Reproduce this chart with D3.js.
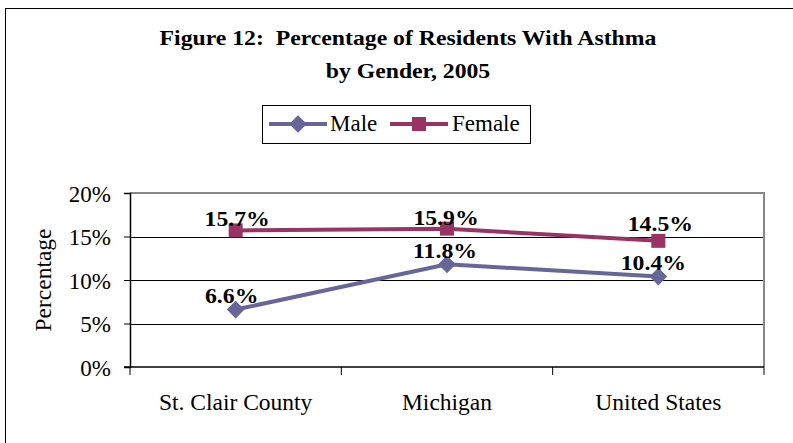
<!DOCTYPE html>
<html>
<head>
  <title>Figure 12: Percentage of Residents With Asthma by Gender, 2005</title>
  <script src="https://d3js.org/d3.v7.min.js"></script>
  <style type="text/css">
    body {
      margin: 0;
      background: white;
    }
    text {
      font-family: "Liberation Serif", "Times New Roman", serif;
      fill: #000;
      white-space: pre;
    }
  </style>
</head>
<body>
  <div id="chart"></div>
  <script>
    // data
    var categories = ["St. Clair County", "Michigan", "United States"];
    var maleValues = [6.6, 11.8, 10.4];
    var femaleValues = [15.7, 15.9, 14.5];
    var seriesNames = ["Male", "Female"];
    var seriesColors = ["#666699", "#993366"];
    var yTicks = [0, 5, 10, 15, 20];

    // small nudges for the value labels, as placed in the original
    var labelDx = [[-4, -2, -5], [1.5, -1, 2]];
    var labelDy = [[-6.5, -6, -6.5], [-4.5, -4, -10]];

    var width = 793;
    var height = 443;
    var plot = { left: 130, right: 764, top: 193, bottom: 367 };
    var boldStretch = 1.13; // the bold text in the original is drawn a bit wide

    var svg = d3.select("#chart").append("svg")
      .attr("width", width)
      .attr("height", height);

    // outer chart border (runs off the page on right and bottom)
    svg.append("rect")
      .attr("x", 5.5).attr("y", 8.5)
      .attr("width", 800).attr("height", 450)
      .attr("fill", "white")
      .attr("stroke", "#000")
      .attr("stroke-width", 1);

    // title
    var title = svg.append("text")
      .attr("text-anchor", "middle")
      .attr("transform", "translate(408,0) scale(" + boldStretch + ",1)")
      .style("font-size", "21px")
      .style("font-weight", "bold");
    title.append("tspan").attr("x", 0).attr("y", 45)
      .text("Figure 12:  Percentage of Residents With Asthma");
    title.append("tspan").attr("x", 0).attr("y", 78)
      .text("by Gender, 2005");

    var x = d3.scaleBand().domain(categories).range([plot.left, plot.right]);
    var y = d3.scaleLinear().domain([0, 20]).range([plot.bottom, plot.top]);

    // gridlines
    svg.append("g").selectAll("line").data(yTicks.filter(function(d) { return d > 0 && d < 20; }))
      .enter().append("line")
      .attr("x1", plot.left).attr("x2", plot.right)
      .attr("y1", function(d) { return Math.round(y(d)) + 0.5; })
      .attr("y2", function(d) { return Math.round(y(d)) + 0.5; })
      .attr("stroke", "#000")
      .attr("stroke-width", 1);

    // top and right frame (gray)
    svg.append("path")
      .attr("d", "M" + plot.left + "," + plot.top + "H" + plot.right + "V" + plot.bottom)
      .attr("fill", "none")
      .attr("stroke", "#888")
      .attr("stroke-width", 2);

    // y axis
    var yAxis = d3.axisLeft(y)
      .tickValues(yTicks)
      .tickSize(6)
      .tickFormat(function(d) { return d + "%"; });
    var yg = svg.append("g")
      .attr("transform", "translate(" + plot.left + ",0)")
      .call(yAxis);
    yg.select(".domain").attr("stroke", "#000").attr("stroke-width", 1.5);
    yg.selectAll(".tick line").attr("stroke", "#000");
    yg.selectAll(".tick text")
      .attr("x", -19)
      .attr("dy", "0.35em")
      .style("font-size", "23px")
      .style("font-family", "Liberation Serif, Times New Roman, serif")
      .attr("fill", "#000");

    // x axis
    var xg = svg.append("g")
      .attr("transform", "translate(0," + plot.bottom + ")");
    xg.append("line")
      .attr("x1", plot.left - 6).attr("x2", plot.right)
      .attr("y1", 0).attr("y2", 0)
      .attr("stroke", "#000").attr("stroke-width", 1.5);
    var tickXs = categories.map(function(c) { return x(c); }).concat([plot.right]);
    xg.selectAll(".xtick").data(tickXs).enter().append("line")
      .attr("class", "xtick")
      .attr("x1", function(d) { return d; }).attr("x2", function(d) { return d; })
      .attr("y1", 0).attr("y2", 8)
      .attr("stroke", "#000");
    xg.selectAll(".xlabel").data(categories).enter().append("text")
      .attr("class", "xlabel")
      .attr("x", function(d) { return x(d) + x.bandwidth() / 2; })
      .attr("y", 43)
      .attr("text-anchor", "middle")
      .style("font-size", "23.5px")
      .text(function(d) { return d; });

    // y axis title
    svg.append("text")
      .attr("transform", "translate(51,280) rotate(-90)")
      .attr("text-anchor", "middle")
      .style("font-size", "23.5px")
      .text("Percentage");

    // lines
    var allSeries = [maleValues, femaleValues];
    var line = d3.line()
      .x(function(d, i) { return x(categories[i]) + x.bandwidth() / 2; })
      .y(function(d) { return y(d); });

    allSeries.forEach(function(vals, s) {
      svg.append("path")
        .datum(vals)
        .attr("d", line)
        .attr("fill", "none")
        .attr("stroke", seriesColors[s])
        .attr("stroke-width", 4);
    });

    var diamond = d3.symbol().type(d3.symbolDiamond2).size(200);
    var square = d3.symbol().type(d3.symbolSquare).size(196);

    function drawMarker(g, s, cx, cy) {
      g.append("path")
        .attr("d", s === 0 ? diamond() : square())
        .attr("transform", "translate(" + cx + "," + cy + ")")
        .attr("fill", seriesColors[s]);
    }

    allSeries.forEach(function(vals, s) {
      vals.forEach(function(v, i) {
        drawMarker(svg, s, x(categories[i]) + x.bandwidth() / 2, y(v));
      });
    });

    // data labels
    allSeries.forEach(function(vals, s) {
      svg.selectAll(".lbl" + s).data(vals).enter().append("text")
        .attr("class", "lbl" + s)
        .attr("transform", function(d, i) {
          var lx = x(categories[i]) + x.bandwidth() / 2 + labelDx[s][i];
          var ly = y(d) + labelDy[s][i];
          return "translate(" + lx + "," + ly + ") scale(" + boldStretch + ",1)";
        })
        .attr("text-anchor", "middle")
        .style("font-size", "21px")
        .style("font-weight", "bold")
        .text(function(d) { return d.toFixed(1) + "%"; });
    });

    // legend
    var legend = svg.append("g");
    legend.append("rect")
      .attr("x", 262.5).attr("y", 105.5)
      .attr("width", 268).attr("height", 38)
      .attr("fill", "white")
      .attr("stroke", "#000");
    var legendX = [269, 390];
    var textX = [330, 452];
    seriesNames.forEach(function(name, s) {
      legend.append("line")
        .attr("x1", legendX[s]).attr("x2", legendX[s] + 58)
        .attr("y1", 124).attr("y2", 124)
        .attr("stroke", seriesColors[s])
        .attr("stroke-width", 4);
      drawMarker(legend, s, legendX[s] + 29, 124);
      legend.append("text")
        .attr("x", textX[s]).attr("y", 131)
        .style("font-size", "23px")
        .text(name);
    });
  </script>
</body>
</html>
